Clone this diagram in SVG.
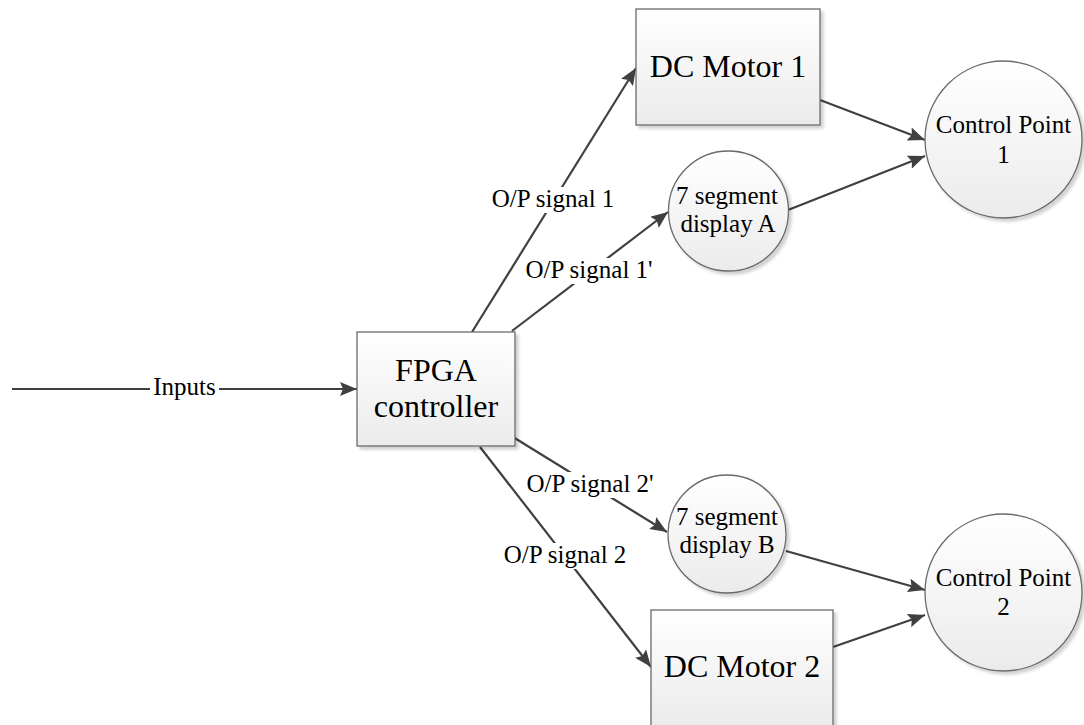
<svg xmlns="http://www.w3.org/2000/svg" width="1084" height="725" viewBox="0 0 1084 725">
<defs>
<linearGradient id="g" x1="0" y1="0" x2="0" y2="1">
<stop offset="0" stop-color="#ffffff"/>
<stop offset="1" stop-color="#ebebeb"/>
</linearGradient>
<filter id="sh" x="-10%" y="-10%" width="130%" height="130%">
<feDropShadow dx="3" dy="3" stdDeviation="1.5" flood-color="#000" flood-opacity="0.18"/>
</filter>
<marker id="ar" markerUnits="userSpaceOnUse" markerWidth="18" markerHeight="14" viewBox="0 0 18 14" refX="17" refY="7" orient="auto">
<path d="M0,0 L17,7 L0,14 L3,7 z" fill="#404040"/>
</marker>
<style>
.node{fill:url(#g);stroke:#6a6a6a;stroke-width:1.3;filter:url(#sh)}
text{font-family:'Liberation Serif','DejaVu Serif',serif;fill:#000;text-anchor:middle}
.big{font-size:32px}
.sm{font-size:25px}
.c{stroke:#404040;stroke-width:2.2;fill:none;marker-end:url(#ar)}
</style>
</defs>
<rect width="1084" height="725" fill="#fff"/>
<g id="connectors">
<line class="c" x1="12" y1="389" x2="357" y2="389"/>
<line class="c" x1="472" y1="332" x2="636" y2="68"/>
<line class="c" x1="512" y1="331" x2="668" y2="212"/>
<line class="c" x1="820" y1="100" x2="925" y2="140"/>
<line class="c" x1="788" y1="210" x2="925" y2="156"/>
<line class="c" x1="513" y1="437" x2="667" y2="532"/>
<line class="c" x1="480" y1="447" x2="651" y2="667"/>
<line class="c" x1="786" y1="551" x2="925" y2="590"/>
<line class="c" x1="833" y1="647" x2="925" y2="615"/>
<g id="labels">
<rect x="150" y="376" width="69" height="25" fill="#fff"/>
<text class="sm" x="184.5" y="395" font-family="Liberation Serif, DejaVu Serif, serif">Inputs</text>
<rect x="490" y="187" width="126" height="26" fill="#fff"/>
<text class="sm" x="553" y="207" font-family="Liberation Serif, DejaVu Serif, serif">O/P signal 1</text>
<rect x="522" y="258" width="134" height="26" fill="#fff"/>
<text class="sm" x="589" y="278" font-family="Liberation Serif, DejaVu Serif, serif">O/P signal 1'</text>
<rect x="523" y="472" width="134" height="26" fill="#fff"/>
<text class="sm" x="590" y="492" font-family="Liberation Serif, DejaVu Serif, serif">O/P signal 2'</text>
<rect x="502" y="543" width="126" height="26" fill="#fff"/>
<text class="sm" x="565" y="563" font-family="Liberation Serif, DejaVu Serif, serif">O/P signal 2</text>
</g>
</g>
<g id="fpga">
<rect class="node" x="357" y="332" width="158" height="114"/>
<text class="big" x="436" y="381">FPGA</text>
<text class="big" x="436" y="417">controller</text>
</g>
<g id="motor1">
<rect class="node" x="636" y="9" width="184" height="116"/>
<text class="big" x="728" y="77">DC Motor 1</text>
</g>
<g id="motor2">
<rect class="node" x="651" y="610" width="182" height="116"/>
<text class="big" x="742" y="677">DC Motor 2</text>
</g>
<g id="segA">
<circle class="node" cx="728.5" cy="211" r="60"/>
<text class="sm" x="727" y="204">7 segment</text>
<text class="sm" x="728" y="232">display A</text>
</g>
<g id="segB">
<circle class="node" cx="727" cy="534" r="59"/>
<text class="sm" x="727" y="525">7 segment</text>
<text class="sm" x="727" y="553">display B</text>
</g>
<g id="cp1">
<circle class="node" cx="1003.5" cy="139.5" r="78.5"/>
<text class="sm" x="1003.5" y="133">Control Point</text>
<text class="sm" x="1003.5" y="163">1</text>
</g>
<g id="cp2">
<circle class="node" cx="1003.5" cy="592.5" r="78.5"/>
<text class="sm" x="1003.5" y="586">Control Point</text>
<text class="sm" x="1003.5" y="615">2</text>
</g>
</svg>
